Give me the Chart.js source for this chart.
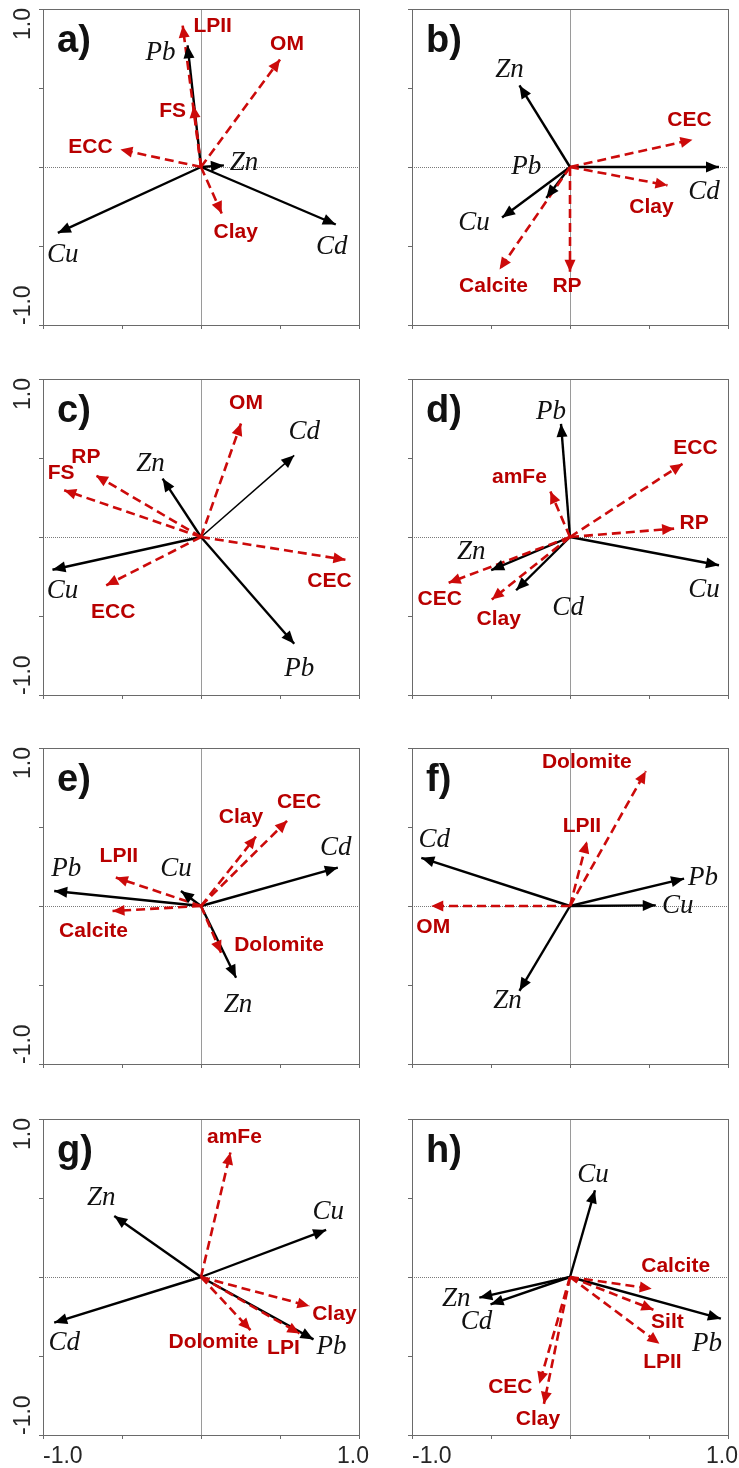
<!DOCTYPE html>
<html>
<head>
<meta charset="utf-8">
<script src="https://cdn.jsdelivr.net/npm/chart.js@4.4.1/dist/chart.umd.min.js"></script>
<style>
  html, body { margin: 0; padding: 0; background: #fff; }
  #page { position: relative; width: 739px; height: 1468px; overflow: hidden; background: #fff; }
  #page canvas { position: absolute; }
</style>
</head>
<body>
<div id="page"></div>
<script>
// ---- Loadings: heavy metals (solid black) and soil properties (dashed red) ----

// a)
const aMetalNames = ['Pb', 'Zn', 'Cu', 'Cd'];
const aMetalX = [-0.085, 0.145, -0.906, 0.853];
const aMetalY = [0.770, 0.010, -0.417, -0.364];
const aSoilNames = ['LPII', 'OM', 'FS', 'ECC', 'Clay'];
const aSoilX = [-0.116, 0.500, -0.047, -0.510, 0.131];
const aSoilY = [0.895, 0.680, 0.387, 0.110, -0.294];

// b)
const bMetalNames = ['Zn', 'Pb', 'Cu', 'Cd'];
const bMetalX = [-0.320, -0.150, -0.430, 0.943];
const bMetalY = [0.516, -0.196, -0.320, 0.000];
const bSoilNames = ['CEC', 'Clay', 'RP', 'Calcite'];
const bSoilX = [0.775, 0.617, 0.000, -0.446];
const bSoilY = [0.173, -0.116, -0.663, -0.648];

// c)
const cMetalNames = ['Cd', 'Zn', 'Cu', 'Pb'];
const cMetalX = [0.590, -0.243, -0.940, 0.590];
const cMetalY = [0.517, 0.370, -0.207, -0.676];
const cSoilNames = ['OM', 'RP', 'FS', 'CEC', 'ECC'];
const cSoilX = [0.253, -0.665, -0.866, 0.914, -0.600];
const cSoilY = [0.718, 0.390, 0.296, -0.144, -0.306];

// d)
const dMetalNames = ['Pb', 'Cu', 'Zn', 'Cd'];
const dMetalX = [-0.057, 0.943, -0.499, -0.341];
const dMetalY = [0.716, -0.179, -0.210, -0.337];
const dSoilNames = ['ECC', 'amFe', 'RP', 'CEC', 'Clay'];
const dSoilX = [0.712, -0.124, 0.659, -0.768, -0.495];
const dSoilY = [0.463, 0.288, 0.053, -0.290, -0.396];

// e)
const eMetalNames = ['Pb', 'Cu', 'Cd', 'Zn'];
const eMetalX = [-0.929, -0.127, 0.866, 0.222];
const eMetalY = [0.095, 0.095, 0.243, -0.454];
const eSoilNames = ['LPII', 'Clay', 'CEC', 'Calcite', 'Dolomite'];
const eSoilX = [-0.539, 0.348, 0.545, -0.560, 0.127];
const eSoilY = [0.180, 0.440, 0.539, -0.032, -0.296];

// f)
const fMetalNames = ['Cd', 'Pb', 'Cu', 'Zn'];
const fMetalX = [-0.941, 0.722, 0.543, -0.320];
const fMetalY = [0.305, 0.173, 0.004, -0.537];
const fSoilNames = ['Dolomite', 'LPII', 'OM'];
const fSoilX = [0.480, 0.107, -0.878];
const fSoilY = [0.853, 0.410, 0.000];

// g)
const gMetalNames = ['Zn', 'Cu', 'Cd', 'Pb'];
const gMetalX = [-0.549, 0.792, -0.929, 0.712];
const gMetalY = [0.386, 0.298, -0.289, -0.395];
const gSoilNames = ['amFe', 'Clay', 'Dolomite', 'LPI'];
const gSoilX = [0.186, 0.686, 0.313, 0.623];
const gSoilY = [0.788, -0.184, -0.336, -0.357];

// h)
const hMetalNames = ['Cu', 'Zn', 'Cd', 'Pb'];
const hMetalX = [0.158, -0.574, -0.503, 0.955];
const hMetalY = [0.549, -0.131, -0.173, -0.264];
const hSoilNames = ['Calcite', 'Silt', 'LPII', 'CEC', 'Clay'];
const hSoilX = [0.517, 0.528, 0.566, -0.194, -0.165];
const hSoilY = [-0.074, -0.207, -0.422, -0.676, -0.803];

// Axis ticks and the two end labels
const tickValues = [-1, -0.5, 0, 0.5, 1];
const endLabels = ['-1.0', '1.0'];

// ---- Layout & styling ----
const RED = '#cc0a0a';
const RED_TEXT = '#b80000';
const BOX = 316;
const colBoxLeft = [43, 412];
const rowBoxTop = [9, 379, 748, 1119];

// Where each name sits relative to its arrow tip (pixels)
const labelShift = {
  a: { Pb: [-27, 8], Zn: [20, -3], Cu: [5, 22], Cd: [-4, 22],
       LPII: [30, 1], OM: [7, -15], FS: [-21, 5], ECC: [-30, -2], Clay: [14, 19] },
  b: { Zn: [-10, -16], Pb: [-20, -31], Cu: [-28, 5], Cd: [-15, 25],
       CEC: [-3, -19], Clay: [-16, 22], RP: [-3, 14], Calcite: [-6, 17] },
  c: { Cd: [10, -23], Zn: [-12, -15], Cu: [10, 21], Pb: [5, 25],
       OM: [5, -20], RP: [-10, -18], FS: [-3, -17], CEC: [-16, 21], ECC: [7, 27] },
  d: { Pb: [-10, -12], Cu: [-15, 25], Zn: [-20, -18], Cd: [52, 18],
       ECC: [13, -16], amFe: [-31, -14], RP: [20, -5], CEC: [-9, 16], Clay: [7, 20] },
  e: { Pb: [12, -22], Cu: [-5, -22], Cd: [-2, -20], Zn: [2, 27],
       LPII: [3, -21], Clay: [-15, -19], CEC: [12, -19], Calcite: [-19, 20], Dolomite: [58, -8] },
  f: { Cd: [13, -18], Pb: [19, -1], Cu: [22, 1], Zn: [-12, 10],
       Dolomite: [-59, -9], LPII: [-5, -15], OM: [2, 21] },
  g: { Zn: [-13, -18], Cu: [2, -18], Cd: [10, 20], Pb: [18, 7],
       amFe: [4, -15], Clay: [25, 8], Dolomite: [-37, 12], LPI: [-16, 15] },
  h: { Cu: [-2, -15], Zn: [-23, 1], Cd: [-14, 18], Pb: [-14, 25],
       Calcite: [24, -22], Silt: [14, 12], LPII: [3, 19], CEC: [-29, 3], Clay: [-6, 15] }
};

// Thinner shaft where the original draws one
const shaftWidth = { c: { Cd: 1.5 } };

const panels = [
  { key: 'a', metals: [aMetalNames, aMetalX, aMetalY], soils: [aSoilNames, aSoilX, aSoilY] },
  { key: 'b', metals: [bMetalNames, bMetalX, bMetalY], soils: [bSoilNames, bSoilX, bSoilY] },
  { key: 'c', metals: [cMetalNames, cMetalX, cMetalY], soils: [cSoilNames, cSoilX, cSoilY] },
  { key: 'd', metals: [dMetalNames, dMetalX, dMetalY], soils: [dSoilNames, dSoilX, dSoilY] },
  { key: 'e', metals: [eMetalNames, eMetalX, eMetalY], soils: [eSoilNames, eSoilX, eSoilY] },
  { key: 'f', metals: [fMetalNames, fMetalX, fMetalY], soils: [fSoilNames, fSoilX, fSoilY] },
  { key: 'g', metals: [gMetalNames, gMetalX, gMetalY], soils: [gSoilNames, gSoilX, gSoilY] },
  { key: 'h', metals: [hMetalNames, hMetalX, hMetalY], soils: [hSoilNames, hSoilX, hSoilY] }
];

// Frame, zero lines, ticks and tick labels under the arrows
const framePlugin = {
  id: 'frame',
  beforeDatasetsDraw(chart, args, opts) {
    const { ctx, chartArea: ca, scales } = chart;
    const xs = scales.x, ys = scales.y;
    ctx.save();
    // zero lines
    const x0 = Math.round(xs.getPixelForValue(0)) + 0.5;
    const y0 = Math.round(ys.getPixelForValue(0)) + 0.5;
    ctx.strokeStyle = '#9a9a9a';
    ctx.lineWidth = 1;
    ctx.beginPath(); ctx.moveTo(x0, ca.top); ctx.lineTo(x0, ca.bottom); ctx.stroke();
    ctx.strokeStyle = '#7a7a7a';
    ctx.setLineDash([1, 1]);
    ctx.beginPath(); ctx.moveTo(ca.left, y0); ctx.lineTo(ca.right, y0); ctx.stroke();
    ctx.setLineDash([]);
    // box
    ctx.strokeStyle = '#6a6a6a';
    ctx.strokeRect(Math.round(ca.left) + 0.5, Math.round(ca.top) + 0.5,
                   Math.round(ca.right - ca.left), Math.round(ca.bottom - ca.top));
    // ticks
    ctx.beginPath();
    tickValues.forEach(v => {
      const px = Math.round(xs.getPixelForValue(v)) + 0.5;
      ctx.moveTo(px, ca.bottom); ctx.lineTo(px, ca.bottom + 4);
      const py = Math.round(ys.getPixelForValue(v)) + 0.5;
      ctx.moveTo(ca.left - 4, py); ctx.lineTo(ca.left, py);
    });
    ctx.stroke();
    // tick labels
    ctx.fillStyle = '#262626';
    ctx.font = '23px "Liberation Sans", Arial, sans-serif';
    if (opts.yLabels) {
      const lx = ca.left - 19;
      ctx.textBaseline = 'middle';
      ctx.save();
      ctx.translate(lx, ys.getPixelForValue(1) - 1);
      ctx.rotate(-Math.PI / 2);
      ctx.textAlign = 'right';
      ctx.fillText(endLabels[1], 0, 0);
      ctx.restore();
      ctx.save();
      ctx.translate(lx, ys.getPixelForValue(-1));
      ctx.rotate(-Math.PI / 2);
      ctx.textAlign = 'left';
      ctx.fillText(endLabels[0], 0, 0);
      ctx.restore();
    }
    if (opts.xLabels) {
      ctx.textBaseline = 'alphabetic';
      ctx.textAlign = 'left';
      ctx.fillText(endLabels[0], xs.getPixelForValue(-1), ca.bottom + 28);
      ctx.textAlign = 'right';
      ctx.fillText(endLabels[1], xs.getPixelForValue(1) + 10, ca.bottom + 28);
    }
    ctx.restore();
  },
  // arrowheads, names and the panel letter on top
  afterDatasetsDraw(chart, args, opts) {
    const { ctx, chartArea: ca } = chart;
    ctx.save();
    const shifts = labelShift[opts.key] || {};
    const drawn = [];
    chart.data.datasets.forEach((ds, i) => {
      const meta = chart.getDatasetMeta(i);
      const p0 = meta.data[0], p1 = meta.data[1];
      const ang = Math.atan2(p1.y - p0.y, p1.x - p0.x);
      const L = ds.kind === 'metal' ? 13 : 12;
      const W = ds.kind === 'metal' ? 5.5 : 5.5;
      const bx = p1.x - L * Math.cos(ang), by = p1.y - L * Math.sin(ang);
      ctx.fillStyle = ds.borderColor;
      ctx.beginPath();
      ctx.moveTo(p1.x, p1.y);
      ctx.lineTo(bx + W * Math.sin(ang), by - W * Math.cos(ang));
      ctx.lineTo(bx - W * Math.sin(ang), by + W * Math.cos(ang));
      ctx.closePath();
      ctx.fill();
      drawn.push({ ds, x: p1.x, y: p1.y });
    });
    drawn.forEach(({ ds, x, y }) => {
      const s = shifts[ds.label] || [0, 0];
      ctx.textAlign = 'center';
      ctx.textBaseline = 'middle';
      if (ds.kind === 'metal') {
        ctx.fillStyle = '#111';
        ctx.font = 'italic 27px "Liberation Serif", "Times New Roman", serif';
      } else {
        ctx.fillStyle = RED_TEXT;
        ctx.font = 'bold 21px "Liberation Sans", Arial, sans-serif';
      }
      ctx.fillText(ds.label, x + s[0], y + s[1]);
    });
    ctx.fillStyle = '#111';
    ctx.font = 'bold 38px "Liberation Sans", Arial, sans-serif';
    ctx.textAlign = 'left';
    ctx.textBaseline = 'alphabetic';
    ctx.fillText(opts.key + ')', ca.left + 14, ca.top + 43);
    ctx.restore();
  }
};

const page = document.getElementById('page');

panels.forEach((panel, idx) => {
  const col = idx % 2, row = Math.floor(idx / 2);
  const cLeft = col === 0 ? 0 : 370;
  const cWidth = col === 0 ? 370 : 369;
  const cTop = rowBoxTop[row] - 9;
  const cHeight = 9 + BOX + 45;
  const canvas = document.createElement('canvas');
  canvas.width = cWidth; canvas.height = cHeight;
  canvas.style.left = cLeft + 'px'; canvas.style.top = cTop + 'px';
  canvas.style.width = cWidth + 'px'; canvas.style.height = cHeight + 'px';
  page.appendChild(canvas);

  const padLeft = colBoxLeft[col] - cLeft;
  const datasets = [];
  const [sn, sx, sy] = panel.soils;
  sn.forEach((n, i) => datasets.push({
    label: n, kind: 'soil', order: 0,
    data: [{ x: 0, y: 0 }, { x: sx[i], y: sy[i] }],
    showLine: true, borderColor: RED, borderWidth: 2.6, borderDash: [9, 5],
    pointRadius: 0, clip: false
  }));
  const [mn, mx, my] = panel.metals;
  const widths = shaftWidth[panel.key] || {};
  mn.forEach((n, i) => datasets.push({
    label: n, kind: 'metal', order: 1,
    data: [{ x: 0, y: 0 }, { x: mx[i], y: my[i] }],
    showLine: true, borderColor: '#000', borderWidth: widths[n] || 2.4,
    pointRadius: 0, clip: false
  }));

  new Chart(canvas, {
    type: 'scatter',
    data: { datasets },
    options: {
      responsive: false,
      animation: false,
      devicePixelRatio: 1,
      events: [],
      layout: { padding: { left: padLeft, top: 9, right: cWidth - padLeft - BOX, bottom: cHeight - 9 - BOX } },
      plugins: {
        legend: { display: false },
        tooltip: { enabled: false },
        frame: { key: panel.key, yLabels: col === 0, xLabels: row === 3 }
      },
      scales: {
        x: { type: 'linear', min: -1, max: 1, display: false },
        y: { type: 'linear', min: -1, max: 1, display: false }
      }
    },
    plugins: [framePlugin]
  });
});
</script>
</body>
</html>
